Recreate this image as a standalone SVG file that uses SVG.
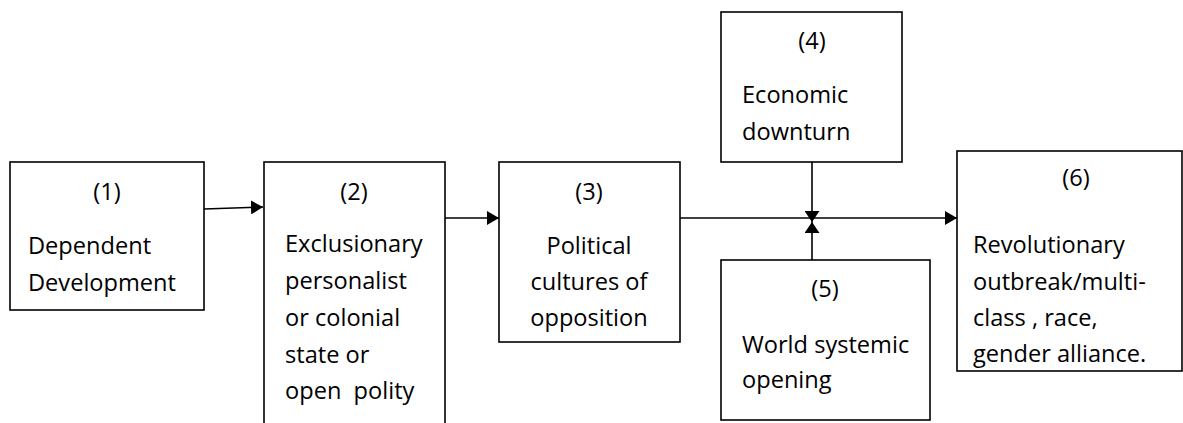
<svg xmlns="http://www.w3.org/2000/svg" width="1183" height="423" viewBox="0 0 1183 423">
<style>
.box{fill:#fff;stroke:#000;stroke-width:1.6}
.t{font-family:"Open Sans","Liberation Sans",sans-serif;font-size:23.6px;fill:#000}
.c{text-anchor:middle}
.ln{stroke:#000;stroke-width:1.6;fill:none}
</style>
<defs>
<marker id="ah" viewBox="0 0 12 14" refX="12" refY="7" markerWidth="12" markerHeight="14" markerUnits="userSpaceOnUse" orient="auto">
<path d="M0,0 L12,7 L0,14 Z" fill="#000"/>
</marker>
<marker id="ah2" viewBox="0 0 11 15" refX="11" refY="7.5" markerWidth="11" markerHeight="15" markerUnits="userSpaceOnUse" orient="auto">
<path d="M0,0 L11,7.5 L0,15 Z" fill="#000"/>
</marker>
</defs>
<rect width="1183" height="423" fill="#fff"/>
<g id="n1">
<rect class="box" x="10" y="162" width="194" height="148"/>
<text class="t c" x="107" y="200">(1)</text>
<text class="t" x="28" y="254">Dependent</text>
<text class="t" x="28" y="291">Development</text>
</g>
<g id="n2">
<rect class="box" x="264" y="162" width="181" height="280"/>
<text class="t c" x="354" y="200">(2)</text>
<text class="t" x="285" y="252">Exclusionary</text>
<text class="t" x="285" y="289">personalist</text>
<text class="t" x="285" y="326">or colonial</text>
<text class="t" x="285" y="363">state or</text>
<text class="t" x="285" y="399" xml:space="preserve">open  polity</text>
</g>
<g id="n3">
<rect class="box" x="499" y="162" width="181" height="180"/>
<text class="t c" x="589" y="200">(3)</text>
<text class="t c" x="589" y="254">Political</text>
<text class="t c" x="589" y="290">cultures of</text>
<text class="t c" x="589" y="326">opposition</text>
</g>
<g id="n4">
<rect class="box" x="721" y="12" width="181" height="150"/>
<text class="t c" x="812" y="49">(4)</text>
<text class="t" x="742" y="103">Economic</text>
<text class="t" x="742" y="140">downturn</text>
</g>
<g id="n5">
<rect class="box" x="721" y="260" width="209" height="160"/>
<text class="t c" x="825" y="297">(5)</text>
<text class="t" x="742" y="353">World systemic</text>
<text class="t" x="742" y="388">opening</text>
</g>
<g id="n6">
<rect class="box" x="957" y="151" width="225" height="220"/>
<text class="t c" x="1076" y="186">(6)</text>
<text class="t" x="973" y="253">Revolutionary</text>
<text class="t" x="973" y="290">outbreak/multi-</text>
<text class="t" x="973" y="326">class , race,</text>
<text class="t" x="973" y="362">gender alliance.</text>
</g>
<g id="connectors">
<line class="ln" x1="204" y1="209" x2="263" y2="207" marker-end="url(#ah)"/>
<line class="ln" x1="445" y1="218" x2="499" y2="218" marker-end="url(#ah)"/>
<line class="ln" x1="680" y1="218" x2="957" y2="218" marker-end="url(#ah)"/>
<line class="ln" x1="812" y1="162" x2="812" y2="222" marker-end="url(#ah2)"/>
<line class="ln" x1="812" y1="260" x2="812" y2="222" marker-end="url(#ah2)"/>
</g>
</svg>
